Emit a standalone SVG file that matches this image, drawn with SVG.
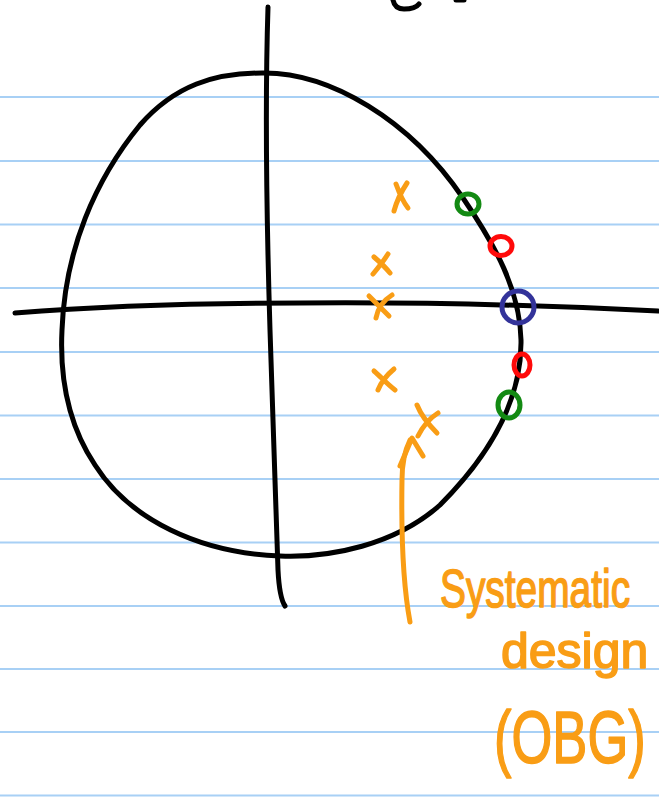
<svg xmlns="http://www.w3.org/2000/svg" width="659" height="804" viewBox="0 0 659 804">
<style>
.rule{stroke:#a8d0f5;stroke-width:2;fill:none}
.ink{fill:none;stroke:#000;stroke-width:5;stroke-linecap:round;stroke-linejoin:round}
.or{fill:none;stroke:#f99d15;stroke-width:5;stroke-linecap:round;stroke-linejoin:round}
.ring{fill:none;stroke-width:5}
.hand{font-family:"Liberation Sans",Arial,sans-serif;fill:#f99d15;stroke:#f99d15;stroke-width:1.6;stroke-linejoin:round}
</style>
<rect width="659" height="804" fill="#fff"/>
<g id="ruled-lines">
<line class="rule" x1="0" y1="97" x2="659" y2="97"/>
<line class="rule" x1="0" y1="161" x2="659" y2="161"/>
<line class="rule" x1="0" y1="224.5" x2="659" y2="224.5"/>
<line class="rule" x1="0" y1="288" x2="659" y2="288"/>
<line class="rule" x1="0" y1="352" x2="659" y2="352"/>
<line class="rule" x1="0" y1="415.5" x2="659" y2="415.5"/>
<line class="rule" x1="0" y1="479" x2="659" y2="479"/>
<line class="rule" x1="0" y1="542.5" x2="659" y2="542.5"/>
<line class="rule" x1="0" y1="606" x2="659" y2="606"/>
<line class="rule" x1="0" y1="669" x2="659" y2="669"/>
<line class="rule" x1="0" y1="732" x2="659" y2="732"/>
<line class="rule" x1="0" y1="795.5" x2="659" y2="795.5"/>
</g>
<g id="top-mark">
<path class="ink" d="M393 0 C394 5,397 9,404 9 C411 9,416 8,419 4"/>
<path class="ink" stroke-width="2" d="M456 0 L464 0"/>
</g>
<g id="curve">
<path class="ink" d="M262 73 C330 72,410 120,463 198 C495 245,520 290,521 340 C522 400,490 455,440 505 C395 545,330 558,280 556 C200 553,130 520,95 465 C65 420,60 370,62 330 C65 250,95 180,140 125 C175 85,215 73,262 73 Z"/>
</g>
<g id="axes">
<path class="ink" d="M15 313 C100 306,200 303,300 303 C420 302,520 304,658 311"/>
<path class="ink" d="M268 7 C265 100,266 200,270 330 C273 430,276 520,278 570 C279 590,281 600,285 606"/>
</g>
<g id="crosses">
<path class="or" d="M396 184 C400 195,404 203,408 208 M407 183 C401 192,397 200,394 211"/>
<path class="or" d="M374 257 C381 263,386 268,390 273 M388 254 C383 262,378 268,373 274"/>
<path class="or" d="M369 296 C376 303,383 310,389 316 M392 295 C384 300,378 307,376 318"/>
<path class="or" d="M374 371 C381 377,387 384,395 390 M394 369 C388 374,382 380,378 390"/>
<path class="or" d="M417 405 C421 415,428 424,437 433 M438 413 C430 418,423 426,418 436"/>
</g>
<g id="markers">
<ellipse class="ring" stroke="#138a13" cx="468" cy="204" rx="11" ry="10"/>
<ellipse class="ring" stroke="#ff0a0a" cx="501" cy="246" rx="11" ry="9.5"/>
<circle class="ring" stroke="#33339a" stroke-width="6" cx="518" cy="307" r="16"/>
<ellipse class="ring" stroke="#ff0a0a" cx="522" cy="365" rx="8" ry="11"/>
<ellipse class="ring" stroke="#138a13" cx="509" cy="405" rx="11" ry="13"/>
</g>
<g id="annotation">
<path class="or" d="M410 622 C404 590,401 540,402 480 C402 466,404 452,410 440"/>
<path class="or" d="M400 466 L412 438 L423 456"/>
<text class="hand" transform="translate(440,607) scale(0.72,1)" x="0" y="0" font-size="54">Systematic</text>
<text class="hand" x="501" y="668" font-size="50">design</text>
<text class="hand" transform="translate(494,763) scale(0.71,1)" x="0" y="0" font-size="74">(OBG)</text>
</g>
</svg>
